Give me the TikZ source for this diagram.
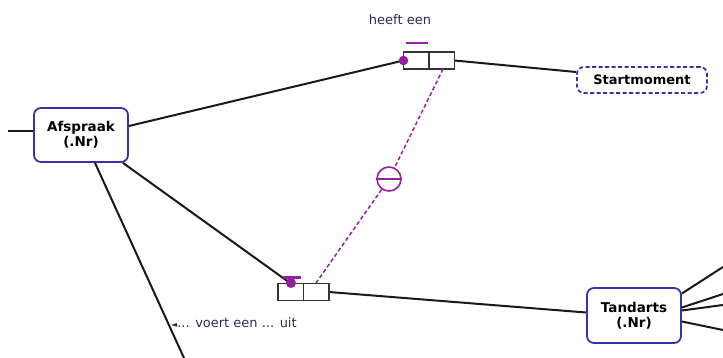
\documentclass[tikz,border=0pt]{standalone}
\usepackage{fontspec}
\setmainfont{DejaVu Sans}
\definecolor{boxblue}{RGB}{52,52,170}
\definecolor{purp}{RGB}{150,30,160}
\definecolor{labtxt}{RGB}{40,45,75}
\begin{document}
\begin{tikzpicture}[x=1pt,y=-1pt,
  ent/.style={draw=boxblue,line width=1.8pt,rounded corners=7pt,fill=white,
    align=center,font=\fontsize{13.5}{15}\selectfont\bfseries,inner sep=0pt},
  cell/.style={draw=black!80,line width=1.5pt,fill=white,minimum width=25.5pt,
    minimum height=17pt,inner sep=0pt,outer sep=0pt},
  conn/.style={line width=2pt,black!90},
  pdash/.style={purp,line width=1.5pt,dash pattern=on 4pt off 2.5pt},
  lab/.style={font=\fontsize{13}{15}\selectfont,text=labtxt,inner sep=0pt}]
\useasboundingbox (0,0) rectangle (723,358);
% entities
\node[ent,minimum width=94pt,minimum height=54pt] (afs) at (81,135) {Afspraak\\(.Nr)};
\node[ent,dashed,dash pattern=on 4pt off 2.5pt,minimum width=130pt,minimum height=26pt,
  font=\fontsize{13}{15}\selectfont\bfseries] (start) at (642,80) {Startmoment};
\node[ent,minimum width=94pt,minimum height=55pt] (tand) at (634,315.5) {Tandarts\\(.Nr)};
% free ends
\coordinate (afsin) at (8,131);
\coordinate (afsbot) at (184,358);
\coordinate (t1) at (723,267);
\coordinate (t2) at (723,294);
\coordinate (t3) at (723,305);
\coordinate (t4) at (723,330);
% fact type boxes
\node[cell] (h1) at (416.25,60.5) {};
\node[cell,anchor=west] (h2) at (h1.east) {};
\node[cell] (l1) at (290.75,292) {};
\node[cell,anchor=west] (l2) at (l1.east) {};
% connectors
\draw[conn] (afsin) -- ([yshift=4pt]afs.west);
\draw[conn] ([yshift=9pt]afs.east) -- (h1.west);
\draw[conn] (h2.east) -- ([yshift=8pt]start.west);
\draw[conn] ([xshift=-6pt]afs.south east) -- (l1.north);
\draw[conn] ([xshift=14pt]afs.south) -- (afsbot);
\draw[conn] (l2.east) -- ([yshift=3pt]tand.west);
\draw[conn] ([yshift=22pt]tand.east) -- (t1);
\draw[conn] ([yshift=8pt]tand.east) -- (t2);
\draw[conn] ([yshift=5pt]tand.east) -- (t3);
\draw[conn] ([yshift=-6pt]tand.east) -- (t4);
% redraw cells on top
\node[cell] at (h1) {};
\node[cell] at (h2) {};
\node[cell] at (l1) {};
\node[cell] at (l2) {};
% constraints
\fill[purp] (h1.west) circle (4.8pt);
\draw[purp,line width=2pt] (406,43.5) -- (428,43.5);
\fill[purp] (291,283) circle (5pt);
\draw[purp,line width=2.2pt] (283,277.5) -- (301,277.5);
\node[draw=purp,line width=1.6pt,circle,minimum size=24pt,inner sep=0pt] (exc) at (389,179) {};
\draw[purp,line width=1.6pt] (exc.west) -- (exc.east);
\coordinate (pd1) at (443,69);
\coordinate (pd2) at (316,283);
\draw[pdash] (pd1) -- (exc);
\draw[pdash] (exc) -- (pd2);
% labels
\node[lab] (lh) at (400,20) {heeft een};
\node[lab,anchor=west] (lv) at (171,323) {{\fontsize{8}{10}\selectfont ◄}... voert een ... uit};
\end{tikzpicture}
\end{document}
